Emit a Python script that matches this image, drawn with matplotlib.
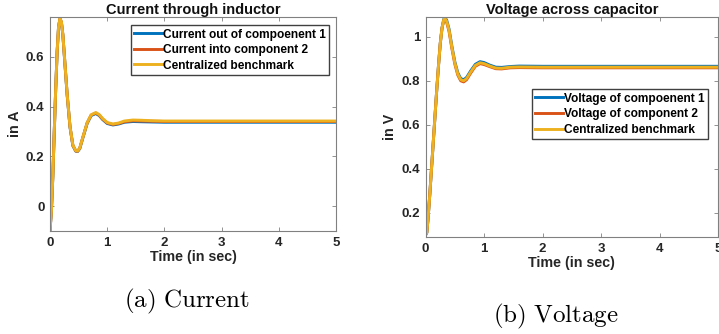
import matplotlib.pyplot as plt

plt.rcParams['font.family'] = ['Liberation Sans', 'DejaVu Sans']
plt.rcParams['font.weight'] = 'bold'
plt.rcParams['mathtext.fontset'] = 'cm'

# current through inductor
t_cur = [0, 0.025, 0.05, 0.075, 0.1, 0.125, 0.15, 0.175, 0.2, 0.225, 0.25, 0.3, 0.35,
         0.4, 0.45, 0.48, 0.52, 0.58, 0.65, 0.72, 0.8, 0.86, 0.92, 1.0, 1.1, 1.2, 1.3,
         1.45, 1.6, 1.8, 2.0, 3.0, 4.0, 5.0]
cur_out1 = [-0.10, -0.02, 0.12, 0.30, 0.47, 0.62, 0.72, 0.753, 0.738, 0.688, 0.608, 0.448,
            0.318, 0.243, 0.221, 0.219, 0.231, 0.279, 0.333, 0.364, 0.372, 0.364, 0.348,
            0.332, 0.326, 0.330, 0.337, 0.340, 0.339, 0.338, 0.337, 0.337, 0.337, 0.337]
cur_in2 = [-0.10, -0.02, 0.12, 0.30, 0.47, 0.62, 0.72, 0.754, 0.739, 0.689, 0.609, 0.449,
           0.319, 0.244, 0.222, 0.220, 0.232, 0.280, 0.334, 0.366, 0.374, 0.366, 0.350,
           0.334, 0.328, 0.332, 0.339, 0.343, 0.342, 0.341, 0.340, 0.340, 0.340, 0.340]
cur_central = [-0.10, -0.02, 0.12, 0.30, 0.47, 0.62, 0.72, 0.755, 0.740, 0.690, 0.610, 0.450,
               0.320, 0.245, 0.223, 0.221, 0.233, 0.281, 0.335, 0.367, 0.376, 0.368, 0.352,
               0.336, 0.330, 0.334, 0.342, 0.346, 0.345, 0.343, 0.342, 0.342, 0.342, 0.342]

# voltage across capacitor
t_volt = [0, 0.02, 0.04, 0.07, 0.1, 0.13, 0.16, 0.19, 0.22, 0.25, 0.28, 0.31, 0.33, 0.36,
          0.4, 0.45, 0.5, 0.55, 0.6, 0.65, 0.7, 0.77, 0.85, 0.93, 1.0, 1.1, 1.2, 1.3,
          1.45, 1.6, 2.0, 3.0, 4.0, 5.0]
volt_comp1 = [0.10, 0.11, 0.17, 0.28, 0.40, 0.52, 0.64, 0.76, 0.87, 0.97, 1.04, 1.08, 1.088,
              1.075, 1.035, 0.955, 0.885, 0.836, 0.810, 0.805, 0.815, 0.845, 0.875, 0.887,
              0.883, 0.871, 0.862, 0.861, 0.865, 0.867, 0.866, 0.866, 0.866, 0.866]
volt_comp2 = [0.10, 0.11, 0.17, 0.28, 0.40, 0.52, 0.64, 0.76, 0.87, 0.97, 1.04, 1.075, 1.08,
              1.065, 1.025, 0.945, 0.875, 0.826, 0.800, 0.795, 0.805, 0.835, 0.866, 0.878,
              0.874, 0.864, 0.855, 0.854, 0.859, 0.860, 0.859, 0.859, 0.859, 0.859]
volt_central = [0.10, 0.11, 0.17, 0.28, 0.40, 0.52, 0.64, 0.76, 0.87, 0.97, 1.04, 1.078, 1.084,
                1.07, 1.03, 0.95, 0.88, 0.831, 0.805, 0.800, 0.810, 0.840, 0.870, 0.882,
                0.878, 0.867, 0.858, 0.857, 0.862, 0.863, 0.862, 0.862, 0.862, 0.862]

labels_cur = ['Current out of compoenent 1', 'Current into component 2', 'Centralized benchmark']
labels_volt = ['Voltage of compoenent 1', 'Voltage of component 2', 'Centralized benchmark']
colors = ['#0072BD', '#D95319', '#EDB120']

fig = plt.figure(figsize=(7.19, 3.34), dpi=100)
ax1 = fig.add_axes([0.0695, 0.3084, 0.398, 0.6407])
ax2 = fig.add_axes([0.592, 0.2904, 0.4066, 0.6587])

def style_axes(ax, title, ylabel):
    ax.set_title(title, fontsize=10.5, fontweight='bold', pad=2, color='#101010')
    ax.set_xlabel('Time (in sec)', fontsize=10.3, fontweight='bold', labelpad=1, color='#262626')
    ax.set_ylabel(ylabel, fontsize=10.3, fontweight='bold', labelpad=3, color='#262626')
    ax.set_xlim(0, 5)
    ax.set_xticks([0, 1, 2, 3, 4, 5])
    ax.tick_params(direction='in', top=True, right=True, labelsize=9.5, labelcolor='#262626',
                   color='#808080', length=3, width=0.6, pad=4)
    for s in ax.spines.values():
        s.set_color('#808080')
        s.set_linewidth(0.8)

leg_style = dict(loc='upper right', borderaxespad=0, fancybox=False, edgecolor='#404040',
                 framealpha=1, handlelength=2.3, handletextpad=0.1, labelspacing=0.3,
                 borderpad=0.3, prop={'weight': 'bold', 'size': 8.6})

for y, c, lab in zip([cur_out1, cur_in2, cur_central], colors, labels_cur):
    ax1.plot(t_cur, y, color=c, lw=2.1, label=lab)
ax1.set_ylim(-0.1, 0.76)
ax1.set_yticks([0, 0.2, 0.4, 0.6])
ax1.set_yticklabels(['0', '0.2', '0.4', '0.6'])
style_axes(ax1, 'Current through inductor', 'in A')
ax1.legend(bbox_to_anchor=(0.976, 0.963), **leg_style)

for y, c, lab in zip([volt_comp1, volt_comp2, volt_central], colors, labels_volt):
    ax2.plot(t_volt, y, color=c, lw=2.1, label=lab)
ax2.set_ylim(0.09, 1.09)
ax2.set_yticks([0.2, 0.4, 0.6, 0.8, 1.0])
ax2.set_yticklabels(['0.2', '0.4', '0.6', '0.8', '1'])
style_axes(ax2, 'Voltage across capacitor', 'in V')
ax2.legend(bbox_to_anchor=(0.966, 0.673), **leg_style)

fig.text(186.5 / 719, 1 - 301.7 / 334, r'$\mathrm{(a)\ Current}$', fontsize=18,
         ha='center', va='center')
fig.text(555.6 / 719, 1 - 316.7 / 334, r'$\mathrm{(b)\ Voltage}$', fontsize=18,
         ha='center', va='center')

fig.savefig('out.png', dpi=100)
